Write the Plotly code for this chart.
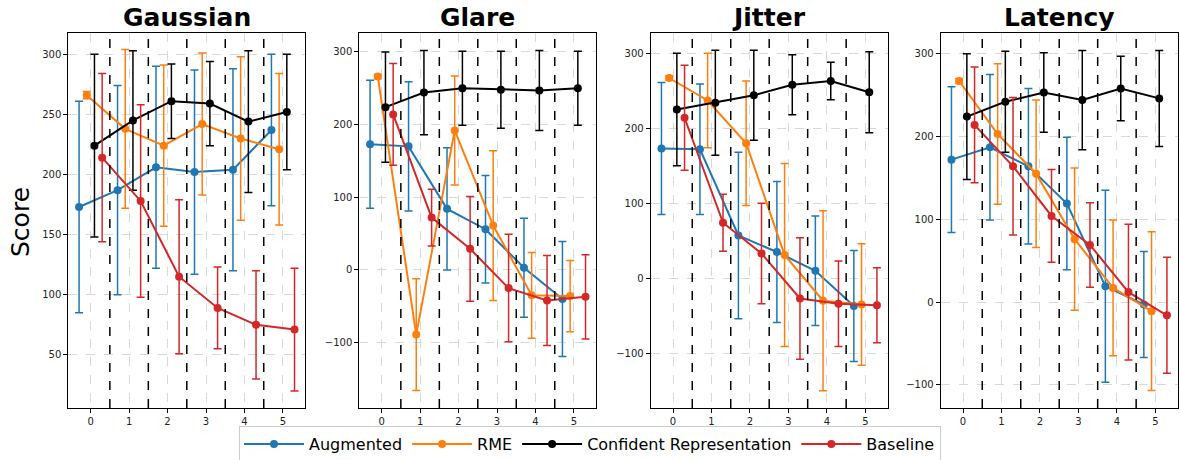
import numpy as np
import plotly.graph_objects as go

# ---------------- data ----------------
levels = [0, 1, 2, 3, 4, 5]
panels = ["Gaussian", "Glare", "Jitter", "Latency"]
series_names = ["Augmented", "RME", "Confident Representation", "Baseline"]

gaussian_aug = [173, 187, 206, 202, 204, 237]
gaussian_aug_err = [88, 87, 84, 85, 84, 63]
gaussian_rme = [266, 238, 224, 242, 230, 221]
gaussian_rme_err = [3, 66, 67, 59, 68, 63]
gaussian_conf = [224, 245, 261, 259, 244, 252]
gaussian_conf_err = [76, 58, 31, 35, 59, 48]
gaussian_base = [214, 178, 115, 89, 75, 71]
gaussian_base_err = [70, 80, 64, 34, 45, 51]

glare_aug = [173, 170, 84, 56, 3, -40]
glare_aug_err = [88, 89, 84, 74, 68, 79]
glare_rme = [266, -89, 192, 61, -35, -36]
glare_rme_err = [3, 77, 75, 103, 59, 49]
glare_conf = [224, 244, 250, 248, 247, 250]
glare_conf_err = [76, 58, 51, 53, 55, 51]
glare_base = [214, 72, 29, -25, -42, -37]
glare_base_err = [70, 39, 72, 74, 62, 58]

jitter_aug = [173, 172, 57, 35, 10, -37]
jitter_aug_err = [88, 87, 111, 94, 73, 74]
jitter_rme = [267, 237, 180, 31, -30, -35]
jitter_rme_err = [3, 63, 83, 122, 120, 81]
jitter_conf = [225, 234, 244, 258, 263, 248]
jitter_conf_err = [75, 70, 60, 40, 25, 54]
jitter_base = [214, 74, 33, -27, -34, -36]
jitter_base_err = [70, 38, 67, 81, 57, 50]

latency_aug = [172, 187, 164, 119, 19, -3]
latency_aug_err = [88, 88, 94, 80, 116, 64]
latency_rme = [267, 203, 155, 76, 17, -11]
latency_rme_err = [3, 85, 89, 86, 82, 96]
latency_conf = [224, 242, 253, 244, 258, 246]
latency_conf_err = [76, 61, 48, 60, 39, 58]
latency_base = [214, 164, 104, 69, 12, -16]
latency_base_err = [70, 83, 56, 51, 82, 70]

y_ticks = [
    [50, 100, 150, 200, 250, 300],
    [-100, 0, 100, 200, 300],
    [-100, 0, 100, 200, 300],
    [-100, 0, 100, 200, 300],
]
y_ranges = [[5.8, 317.7], [-190, 326], [-173, 327], [-128, 325]]

panel_data = [
    [(gaussian_aug, gaussian_aug_err), (gaussian_rme, gaussian_rme_err),
     (gaussian_conf, gaussian_conf_err), (gaussian_base, gaussian_base_err)],
    [(glare_aug, glare_aug_err), (glare_rme, glare_rme_err),
     (glare_conf, glare_conf_err), (glare_base, glare_base_err)],
    [(jitter_aug, jitter_aug_err), (jitter_rme, jitter_rme_err),
     (jitter_conf, jitter_conf_err), (jitter_base, jitter_base_err)],
    [(latency_aug, latency_aug_err), (latency_rme, latency_rme_err),
     (latency_conf, latency_conf_err), (latency_base, latency_base_err)],
]

# ---------------- style ----------------
W, H = 1180, 460
colors = ["#1f77b4", "#ff7f0e", "#000000", "#d62728"]
offsets = [-0.3, -0.1, 0.1, 0.3]
FONT = "DejaVu Sans"
panel_left_px = [68.3, 359.3, 650.7, 940.7]
panel_w_px = 237.0
top_px, bottom_px = 33.0, 408.0

fig = go.Figure()
layout = {}
shapes = []
annotations = []

for p, name in enumerate(panels):
    ax = "" if p == 0 else str(p + 1)
    xa, ya = "x" + ax, "y" + ax
    for s in range(4):
        vals, errs = panel_data[p][s]
        xs = np.array(levels, dtype=float) + offsets[s]
        fig.add_trace(go.Scatter(
            x=xs, y=vals, xaxis=xa, yaxis=ya,
            mode="lines+markers",
            name=series_names[s],
            legendgroup=series_names[s],
            showlegend=(p == 0),
            line=dict(color=colors[s], width=2),
            marker=dict(color=colors[s], size=8),
            error_y=dict(type="data", array=errs, visible=True,
                         color=colors[s], thickness=1.5, width=4),
        ))
    x0 = panel_left_px[p] / W
    x1 = (panel_left_px[p] + panel_w_px) / W
    layout["xaxis" + ax] = dict(
        domain=[x0, x1], range=[-0.58, 5.58], anchor=ya, automargin=False,
        tickmode="array", tickvals=levels, ticktext=[str(v) for v in levels],
        showgrid=True, gridcolor="#d8d8d8", griddash="dash", gridwidth=0.8,
        showline=True, linecolor="black", linewidth=1, mirror=True,
        ticks="outside", ticklen=4, tickcolor="black", zeroline=False,
        tickfont=dict(family=FONT, size=10, color="#222"),
    )
    layout["yaxis" + ax] = dict(
        domain=[1 - bottom_px / H, 1 - top_px / H], range=y_ranges[p], anchor=xa,
        automargin=False,
        tickmode="array", tickvals=y_ticks[p],
        ticktext=[str(v).replace("-", "\u2212") for v in y_ticks[p]],
        showgrid=True, gridcolor="#d8d8d8", griddash="dash", gridwidth=0.8,
        showline=True, linecolor="black", linewidth=1, mirror=True,
        ticks="outside", ticklen=4, tickcolor="black", zeroline=False,
        tickfont=dict(family=FONT, size=10, color="#222"),
    )
    for b in [0.5, 1.5, 2.5, 3.5, 4.5]:
        shapes.append(dict(type="line", xref=xa, yref=ya + " domain",
                           x0=b, x1=b, y0=0, y1=1,
                           line=dict(color="black", width=1.5, dash="dash"),
                           layer="above"))
    annotations.append(dict(text="<b>" + name + "</b>", xref="paper", yref="paper",
                            x=(x0 + x1) / 2, y=1 - 17 / H, xanchor="center",
                            yanchor="middle", showarrow=False,
                            font=dict(family=FONT, size=25, color="black")))

annotations.append(dict(text="Score", xref="paper", yref="paper",
                        x=20 / W, y=1 - 222 / H, xanchor="center", yanchor="middle",
                        textangle=-90, showarrow=False,
                        font=dict(family=FONT, size=25, color="black")))

fig.update_layout(
    width=W, height=H,
    margin=dict(l=0, r=0, t=0, b=0, autoexpand=False),
    paper_bgcolor="white", plot_bgcolor="white",
    shapes=shapes, annotations=annotations,
    legend=dict(orientation="h", x=0.5, xanchor="center", y=16 / H, yanchor="middle",
                bordercolor="#cccccc", borderwidth=1, bgcolor="white",
                font=dict(family=FONT, size=16, color="black"),
                itemwidth=60),
    font=dict(family=FONT),
    **layout,
)

fig.write_html("out.html",
               config={"displayModeBar": False},
               post_script="document.body.style.margin='0';document.body.style.overflow='hidden';")
